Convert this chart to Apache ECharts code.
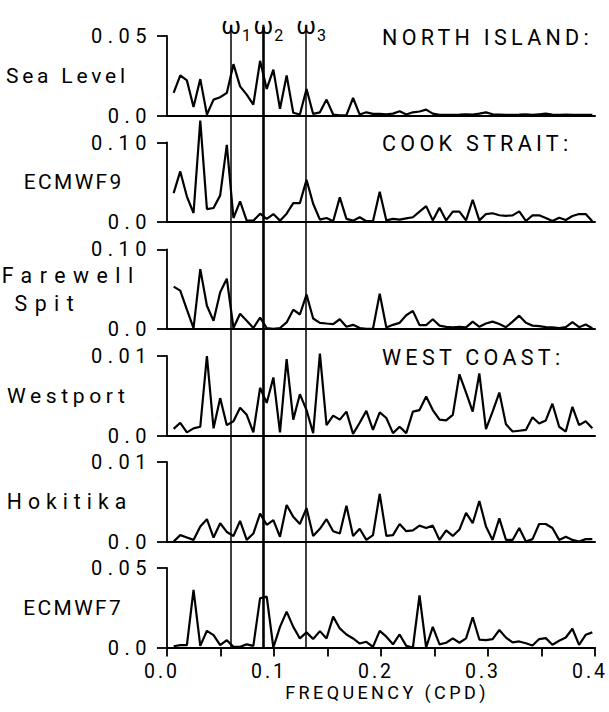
<!DOCTYPE html>
<html>
<head>
<meta charset="utf-8">
<script src="https://cdn.jsdelivr.net/npm/echarts@6/dist/echarts.min.js"></script>
<style>
  html, body { margin: 0; padding: 0; background: #fff; }
  #chart { width: 609px; height: 712px; }
  /* wide, plotter-like lettering; spacing keyed on the font size of each text group */
  #chart text { letter-spacing: 3px; }
  #chart text[style*="20px"] { letter-spacing: 5.5px; }      /* y tick labels */
  #chart text[style*="19.5px"] { letter-spacing: 3px; }      /* frequency tick labels */
  #chart text[style*="18px"] { letter-spacing: 3.4px; }      /* frequency axis name */
  #chart text[style*="21.5px"] { letter-spacing: 4.3px; }    /* region headings */
  #chart text[style*="21px"] { letter-spacing: 3.8px; }      /* station names */
  #chart text[style*="20.9px"] { letter-spacing: 2.4px; }
  #chart text[style*="21.1px"] { letter-spacing: 4.6px; }
  #chart text[style*="21.2px"] { letter-spacing: 6px; }
  #chart text[style*="21.3px"] { letter-spacing: 7.5px; }
  #chart text[style*="24px"], #chart text[style*="16px"] { letter-spacing: 0; }
</style>
</head>
<body>
<div id="chart"></div>
<script>
// Spectral estimates, frequency in cycles per day
const freq = [
  0.0062, 0.0124, 0.0186, 0.0248, 0.0311, 0.0373, 0.0435, 0.0497, 0.0559, 0.0621,
  0.0683, 0.0745, 0.0807, 0.0870, 0.0932, 0.0994, 0.1056, 0.1118, 0.1180, 0.1242,
  0.1304, 0.1366, 0.1429, 0.1491, 0.1553, 0.1615, 0.1677, 0.1739, 0.1801, 0.1863,
  0.1925, 0.1988, 0.2050, 0.2112, 0.2174, 0.2236, 0.2298, 0.2360, 0.2422, 0.2484,
  0.2547, 0.2609, 0.2671, 0.2733, 0.2795, 0.2857, 0.2919, 0.2981, 0.3043, 0.3106,
  0.3168, 0.3230, 0.3292, 0.3354, 0.3416, 0.3478, 0.3540, 0.3602, 0.3665, 0.3727,
  0.3789, 0.3851, 0.3913, 0.3975
];

const seaLevel = [
  0.0142, 0.0252, 0.0221, 0.0054, 0.0229, 0.0006, 0.0100, 0.0115, 0.0142, 0.0323,
  0.0183, 0.0131, 0.0069, 0.0344, 0.0167, 0.0288, 0.0042, 0.0252, 0.0017, 0.0006,
  0.0167, 0.0010, 0.0020, 0.0100, 0.0006, 0.0001, 0.0002, 0.0110, 0.0006, 0.0020,
  0.0010, 0.0010, 0.0008, 0.0012, 0.0027, 0.0006, 0.0020, 0.0025, 0.0037, 0.0012,
  0.0004, 0.0004, 0.0004, 0.0005, 0.0008, 0.0006, 0.0012, 0.0020, 0.0008, 0.0006,
  0.0004, 0.0004, 0.0005, 0.0008, 0.0004, 0.0008, 0.0012, 0.0006, 0.0004, 0.0005,
  0.0004, 0.0004, 0.0004, 0.0004
];

const ecmwf9 = [
  0.0364, 0.0636, 0.0320, 0.0113, 0.1276, 0.0163, 0.0176, 0.0335, 0.0970, 0.0050,
  0.0260, 0.0017, 0.0017, 0.0105, 0.0040, 0.0100, 0.0017, 0.0105, 0.0238, 0.0238,
  0.0530, 0.0230, 0.0030, 0.0050, 0.0010, 0.0310, 0.0040, 0.0017, 0.0060, 0.0010,
  0.0010, 0.0380, 0.0020, 0.0040, 0.0030, 0.0045, 0.0060, 0.0130, 0.0200, 0.0020,
  0.0180, 0.0020, 0.0130, 0.0130, 0.0020, 0.0280, 0.0020, 0.0100, 0.0110, 0.0085,
  0.0078, 0.0084, 0.0134, 0.0013, 0.0084, 0.0084, 0.0050, 0.0013, 0.0054, 0.0025,
  0.0075, 0.0100, 0.0100, 0.0010
];

const farewellSpit = [
  0.0530, 0.0480, 0.0240, 0.0010, 0.0750, 0.0290, 0.0100, 0.0460, 0.0630, 0.0010,
  0.0190, 0.0100, 0.0010, 0.0140, 0.0010, 0.0000, 0.0010, 0.0080, 0.0240, 0.0180,
  0.0430, 0.0130, 0.0075, 0.0067, 0.0060, 0.0120, 0.0025, 0.0050, 0.0010, 0.0000,
  0.0000, 0.0440, 0.0017, 0.0050, 0.0075, 0.0170, 0.0225, 0.0046, 0.0046, 0.0120,
  0.0040, 0.0025, 0.0017, 0.0025, 0.0017, 0.0090, 0.0025, 0.0067, 0.0090, 0.0060,
  0.0020, 0.0090, 0.0165, 0.0075, 0.0040, 0.0033, 0.0020, 0.0017, 0.0008, 0.0020,
  0.0083, 0.0020, 0.0054, 0.0008
];

const westport = [
  0.00084, 0.0016, 0.0004, 0.0009, 0.0011, 0.0100, 0.0009, 0.0047, 0.0013, 0.0018,
  0.0035, 0.0026, 0.0004, 0.0060, 0.0041, 0.0073, 0.0004, 0.0096, 0.0020, 0.0052,
  0.0032, 0.0003, 0.0103, 0.0013, 0.0025, 0.0020, 0.0030, 0.0002, 0.0016, 0.0031,
  0.0007, 0.0029, 0.0022, 0.0003, 0.0011, 0.0003, 0.0030, 0.0032, 0.0049, 0.0032,
  0.0020, 0.0019, 0.0026, 0.0077, 0.0054, 0.0030, 0.0078, 0.0008, 0.0030, 0.0054,
  0.0014, 0.0005, 0.0006, 0.0007, 0.0023, 0.0015, 0.0019, 0.0040, 0.0011, 0.0005,
  0.0036, 0.0013, 0.0018, 0.0009
];

const hokitika = [
  0.0000, 0.0008, 0.0005, 0.0002, 0.0019, 0.0028, 0.0005, 0.0023, 0.0012, 0.0007,
  0.0026, 0.0002, 0.0010, 0.0035, 0.0021, 0.0027, 0.0006, 0.0046, 0.0031, 0.0022,
  0.0042, 0.0007, 0.0016, 0.0028, 0.0013, 0.0010, 0.0045, 0.0007, 0.0016, 0.0002,
  0.0008, 0.0060, 0.0007, 0.0008, 0.0022, 0.0013, 0.0014, 0.0020, 0.0017, 0.0020,
  0.0002, 0.0014, 0.0007, 0.0015, 0.0036, 0.0023, 0.0051, 0.0019, 0.0002, 0.0029,
  0.0002, 0.0002, 0.0017, 0.0000, 0.0003, 0.0022, 0.0022, 0.0017, 0.0002, 0.0006,
  0.0002, 0.0000, 0.0003, 0.0003
];

const ecmwf7 = [
  0.0008, 0.0015, 0.0015, 0.0363, 0.0010, 0.0105, 0.0078, 0.0015, 0.0046, 0.0004,
  0.0004, 0.0020, 0.0010, 0.0310, 0.0320, 0.0000, 0.0130, 0.0226, 0.0130, 0.0057,
  0.0095, 0.0053, 0.0103, 0.0057, 0.0194, 0.0120, 0.0082, 0.0057, 0.0025, 0.0036,
  0.0004, 0.0105, 0.0068, 0.0020, 0.0082, 0.0010, 0.0000, 0.0327, 0.0000, 0.0130,
  0.0020, 0.0030, 0.0057, 0.0030, 0.0057, 0.0190, 0.0050, 0.0046, 0.0053, 0.0110,
  0.0062, 0.0032, 0.0038, 0.0027, 0.0013, 0.0053, 0.0059, 0.0017, 0.0042, 0.0063,
  0.0118, 0.0017, 0.0080, 0.0095
];

const seriesValues = [seaLevel, ecmwf9, farewellSpit, westport, hokitika, ecmwf7];
const stationNames = ['Sea Level', 'ECMWF9', 'Farewell\n\u00a0Spit', 'Westport', 'Hokitika', 'ECMWF7'];
const axisMax = [0.05, 0.10, 0.10, 0.01, 0.01, 0.05];
const axisMaxLabels = ['0.05', '0.10', '0.10', '0.01', '0.01', '0.05'];
const regionNames = ['NORTH ISLAND:', 'COOK STRAIT:', 'WEST COAST:'];
const regionPanels = [0, 1, 3];
const omegaFreq = [0.0555, 0.0905, 0.1303];
const omegaSubscripts = ['1', '2', '3'];
const freqTickLabels = ['0.0', '0.1', '0.2', '0.3', '0.4'];
const freqAxisName = 'FREQUENCY (CPD)';

// ---- layout ----
const FONT = 'Roboto';
const GRID_LEFT = 167;
const GRID_WIDTH = 428;
const panelTops = [36, 142.5, 249.3, 356, 462, 568];
const panelHeight = 79.5;
const nameGaps = [99.6, 93.3, 165.3, 98.7, 97.5, 93.8];
const nameAligns = ['center', 'center', 'left', 'center', 'center', 'center'];
const nameSizes = [21, 20.9, 21.3, 21.1, 21.2, 20.9];
const nameLift = [0, 0, 0, 8, 4, 8];

const chart = echarts.init(document.getElementById('chart'), null, { renderer: 'svg' });

const grids = [];
const xAxes = [];
const yAxes = [];
const series = [];

seriesValues.forEach((vals, i) => {
  const isBottom = i === seriesValues.length - 1;
  grids.push({
    left: GRID_LEFT, width: GRID_WIDTH, top: panelTops[i], height: panelHeight,
    outerBoundsMode: 'none', containLabel: false
  });
  xAxes.push({
    type: 'value', gridIndex: i, min: 0, max: 0.4, interval: 0.05,
    axisLine: { show: true, onZero: false, lineStyle: { color: '#000', width: 2 } },
    axisTick: { show: isBottom, inside: false, length: 9, lineStyle: { color: '#000', width: 1.8 } },
    axisLabel: {
      show: isBottom, margin: 14, color: '#000', fontFamily: FONT, fontSize: 19.5,
      padding: [0, 10, 0, 0], hideOverlap: false,
      formatter: v => {
        const k = Math.round(v * 10);
        return Math.abs(v * 10 - k) < 1e-6 ? freqTickLabels[k] : '';
      }
    },
    splitLine: { show: false },
    name: isBottom ? freqAxisName : '',
    nameLocation: 'middle', nameGap: 36, nameMoveOverlap: false,
    nameTextStyle: { color: '#000', fontFamily: FONT, fontSize: 18, padding: [0, 0, 0, 12] }
  });
  yAxes.push({
    type: 'value', gridIndex: i, min: 0, max: axisMax[i], interval: axisMax[i],
    axisLine: { show: true, lineStyle: { color: '#000', width: 1.8 } },
    axisTick: { show: true, inside: false, length: 10, lineStyle: { color: '#000', width: 1.8 } },
    axisLabel: {
      margin: 15, color: '#000', fontFamily: FONT, fontSize: 20,
      formatter: v => (v === 0 ? '0.0' : axisMaxLabels[i])
    },
    splitLine: { show: false },
    name: stationNames[i],
    nameLocation: 'middle', nameRotate: 0, nameGap: nameGaps[i], nameMoveOverlap: false,
    nameTextStyle: {
      color: '#000', fontFamily: FONT, fontSize: nameSizes[i], align: nameAligns[i],
      verticalAlign: 'middle', lineHeight: 28, padding: [0, 0, nameLift[i], 0]
    }
  });
  series.push({
    type: 'line', xAxisIndex: i, yAxisIndex: i,
    data: freq.map((f, j) => [f, vals[j]]),
    showSymbol: false, symbol: 'none', clip: false, silent: true,
    lineStyle: { color: '#000', width: 2.2 }
  });
});

// full-height frame for the three reference frequencies
const omegaGrid = grids.length;
const omegaTop = 27;
grids.push({
  left: GRID_LEFT, width: GRID_WIDTH, top: omegaTop,
  height: panelTops[panelTops.length - 1] + panelHeight - omegaTop,
  outerBoundsMode: 'none', containLabel: false
});
xAxes.push({ type: 'value', gridIndex: omegaGrid, min: 0, max: 0.4, show: false });
yAxes.push({ type: 'value', gridIndex: omegaGrid, min: 0, max: 1, show: false });
series.push({
  type: 'line', xAxisIndex: omegaGrid, yAxisIndex: omegaGrid, data: [],
  markLine: {
    silent: true, symbol: ['none', 'none'], animation: false,
    data: omegaFreq.map((f, i) => ({
      xAxis: f,
      lineStyle: { color: '#000', type: 'solid', width: i === 1 ? 2.6 : 1.5 },
      label: {
        show: true, position: 'end', distance: -9,
        formatter: '{w|\u03c9}{s|' + omegaSubscripts[i] + '}',
        rich: {
          w: { fontFamily: FONT, fontSize: 24, lineHeight: 22, color: '#000',
               verticalAlign: 'top', padding: [0, 0, 0, 10] },
          s: { fontFamily: FONT, fontSize: 16, lineHeight: 16, color: '#000',
               verticalAlign: 'top', padding: [13, 0, 0, 1] }
        }
      }
    }))
  }
});

const graphics = regionNames.map((t, i) => ({
  type: 'text', left: 382, top: panelTops[regionPanels[i]] - 10,
  style: { text: t, fill: '#000', font: '21.5px ' + FONT }
}));

chart.setOption({
  animation: false,
  backgroundColor: '#fff',
  grid: grids,
  xAxis: xAxes,
  yAxis: yAxes,
  series: series,
  graphic: graphics
});
</script>
</body>
</html>
